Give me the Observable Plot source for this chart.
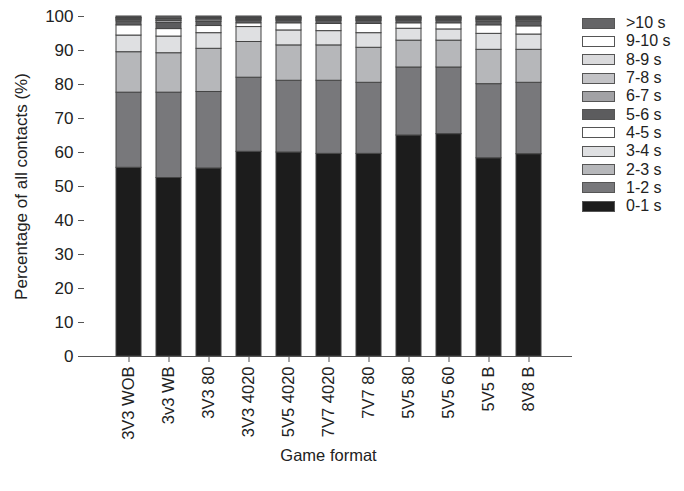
<!DOCTYPE html>
<html>
<head>
<meta charset="utf-8">
<script src="https://cdn.jsdelivr.net/npm/d3@7"></script>
<script src="https://cdn.jsdelivr.net/npm/@observablehq/plot@0.6"></script>
<style>
  html, body { margin: 0; padding: 0; background: #fff; }
  #wrap { position: relative; width: 684px; height: 491px; font-family: "Liberation Sans", Arial, sans-serif; }
  #legend { position: absolute; left: 582px; top: 14px; }
  .row { display: flex; align-items: center; height: 18.3px; }
  .sw { width: 31px; height: 9px; border: 1px solid #555; box-sizing: content-box; }
  .lab { margin-left: 11px; font-size: 16px; color: #222; }
</style>
</head>
<body>
<div id="wrap"><div id="chart"></div><div id="legend"></div></div>
<script>
const formats = ["3V3 WOB", "3v3 WB", "3V3 80", "3V3 4020", "5V5 4020", "7V7 4020", "7V7 80", "5V5 80", "5V5 60", "5V5 B", "8V8 B"];
const bins = ["0-1 s", "1-2 s", "2-3 s", "3-4 s", "4-5 s", "5-6 s", "6-7 s", "7-8 s", "8-9 s", "9-10 s", ">10 s"];
const s0_1  = [55.5, 52.5, 55.3, 60.2, 60.0, 59.6, 59.6, 65.0, 65.4, 58.3, 59.5];
const s1_2  = [22.1, 25.1, 22.5, 21.8, 21.1, 21.5, 20.9, 20.0, 19.6, 21.8, 21.0];
const s2_3  = [11.9, 11.6, 12.7, 10.5, 10.4, 10.4, 10.3, 7.9, 7.9, 10.1, 9.7];
const s3_4  = [4.9, 4.9, 4.6, 4.4, 4.4, 4.2, 4.3, 3.5, 3.3, 4.7, 4.5];
const s4_5  = [3.0, 2.2, 2.1, 1.1, 2.1, 2.1, 2.7, 1.6, 1.8, 2.5, 2.4];
const s5_6  = [1.2, 1.8, 1.2, 0.8, 0.8, 0.9, 0.9, 0.8, 0.8, 1.1, 1.5];
const s6_7  = [0.4, 0.6, 0.5, 0.3, 0.3, 0.3, 0.3, 0.3, 0.3, 0.4, 0.4];
const s7_8  = [0.3, 0.4, 0.4, 0.2, 0.2, 0.3, 0.3, 0.2, 0.2, 0.3, 0.3];
const s8_9  = [0.2, 0.2, 0.2, 0.2, 0.2, 0.2, 0.2, 0.2, 0.2, 0.2, 0.2];
const s9_10 = [0.1, 0.1, 0.1, 0.1, 0.1, 0.1, 0.1, 0.1, 0.1, 0.1, 0.1];
const s10p  = [0.4, 0.6, 0.4, 0.4, 0.4, 0.4, 0.4, 0.4, 0.4, 0.5, 0.4];
const yTicks = [0, 10, 20, 30, 40, 50, 60, 70, 80, 90, 100];
const colors = ["#1c1c1c", "#78787b", "#b6b7ba", "#dfe0e2", "#ffffff", "#5c5c5e", "#a2a2a5", "#c3c3c6", "#dadadc", "#ffffff", "#656567"];

const series = [s0_1, s1_2, s2_3, s3_4, s4_5, s5_6, s6_7, s7_8, s8_9, s9_10, s10p];
const table = [];
series.forEach((vals, i) => vals.forEach((v, j) => table.push({format: formats[j], bin: bins[i], value: v})));

const chart = Plot.plot({
  width: 684,
  height: 491,
  marginLeft: 84,
  marginRight: 112,
  marginTop: 16,
  marginBottom: 135,
  style: {fontFamily: "Liberation Sans, Arial, sans-serif", fontSize: "16px", color: "#222"},
  x: {domain: formats, paddingInner: 0.38, paddingOuter: 0.7},
  y: {domain: [0, 100]},
  color: {type: "ordinal", domain: bins, range: colors},
  marks: [
    Plot.barY(table, {x: "format", y: "value", fill: "bin", stroke: "#444", strokeWidth: 1, order: bins}),
    Plot.ruleY([0], {stroke: "#555"}),
    Plot.axisY({ticks: yTicks, tickSize: 6, tickPadding: 5, line: true, stroke: "#555", label: "Percentage of all contacts (%)", labelArrow: "none", labelAnchor: "center", labelOffset: 70, fontSize: 17}),
    Plot.axisX({tickRotate: -90, tickSize: 6, tickPadding: 4, stroke: "#555", label: "Game format", labelArrow: "none", labelAnchor: "center", labelOffset: 104, fontSize: 16.5})
  ]
});
document.getElementById("chart").appendChild(chart);

const legend = document.getElementById("legend");
for (let i = bins.length - 1; i >= 0; i--) {
  const row = document.createElement("div");
  row.className = "row";
  const sw = document.createElement("div");
  sw.className = "sw";
  sw.style.background = colors[i];
  const lab = document.createElement("span");
  lab.className = "lab";
  lab.textContent = bins[i];
  row.appendChild(sw);
  row.appendChild(lab);
  legend.appendChild(row);
}
</script>
</body>
</html>
